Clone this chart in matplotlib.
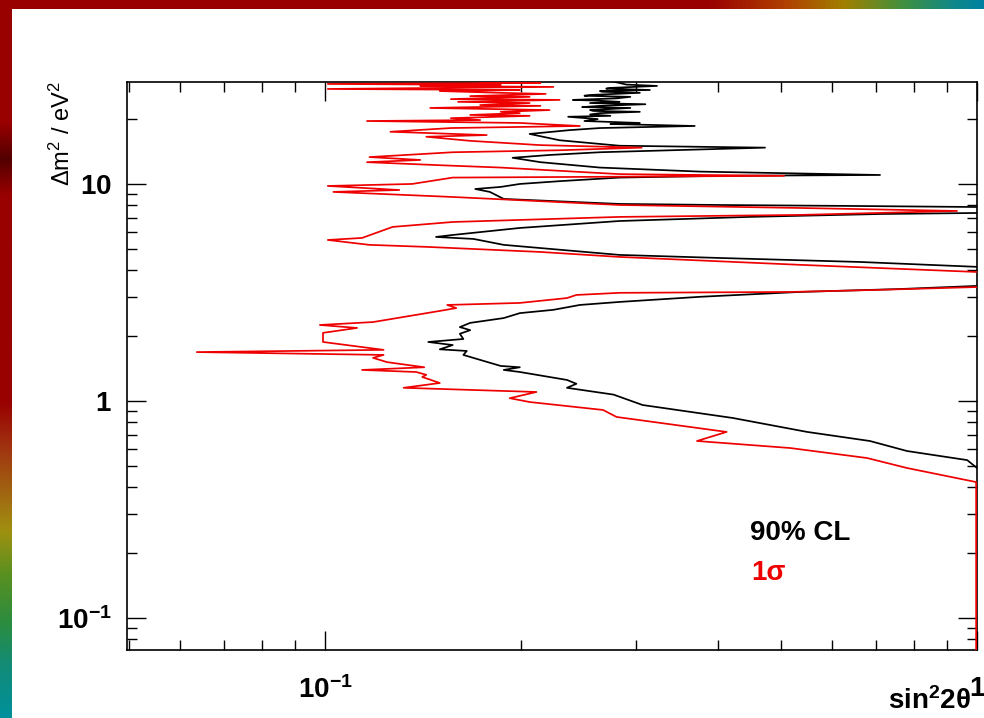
import numpy as np
import matplotlib
matplotlib.use("Agg")
import matplotlib.pyplot as plt
from matplotlib.colors import LinearSegmentedColormap

plt.rcParams['font.family'] = ['Liberation Sans', 'DejaVu Sans']
plt.rcParams['mathtext.fontset'] = 'custom'
plt.rcParams['mathtext.rm'] = 'Liberation Sans'
plt.rcParams['mathtext.bf'] = 'Liberation Sans:bold'
plt.rcParams['mathtext.it'] = 'Liberation Sans:italic'

# 90% CL contour (black), traced bottom -> top
cl90_sin2 = [1.0, 0.966, 0.781, 0.685, 0.549, 0.422, 0.307, 0.277, 0.235, 0.243,
             0.235, 0.199, 0.188, 0.199, 0.186, 0.163, 0.165, 0.150, 0.157, 0.144,
             0.163, 0.161, 0.167, 0.161, 0.167, 0.188, 0.199, 0.224, 0.246, 0.283,
             0.376, 0.535, 0.762, 1.0, 1.07,
             1.07, 1.0, 0.662, 0.403, 0.283, 0.188, 0.169, 0.148, 0.157, 0.199,
             0.283, 0.448, 0.710, 1.0, 1.07,
             1.07, 1.0, 0.638, 0.403, 0.283, 0.188, 0.179, 0.170, 0.186, 0.199,
             0.229, 0.283, 0.403, 0.710, 0.376, 0.264, 0.214, 0.194, 0.221, 0.264,
             0.473, 0.283, 0.229, 0.206, 0.237, 0.264,
             0.369, 0.274, 0.304, 0.250, 0.262, 0.236, 0.274, 0.255, 0.264, 0.304,
             0.258, 0.255, 0.294, 0.248, 0.264, 0.310, 0.255, 0.283, 0.262, 0.240,
             0.280, 0.294, 0.250, 0.255, 0.304, 0.266, 0.264, 0.315, 0.270, 0.274,
             0.323, 0.290, 0.283, 0.264]
cl90_dm2 = [0.491, 0.534, 0.588, 0.654, 0.720, 0.835, 0.958, 1.07, 1.15, 1.20,
            1.25, 1.36, 1.39, 1.43, 1.45, 1.63, 1.70, 1.73, 1.81, 1.87,
            1.93, 2.04, 2.12, 2.19, 2.29, 2.41, 2.54, 2.63, 2.77, 2.86,
            3.02, 3.18, 3.28, 3.39, 3.42,
            4.10, 4.15, 4.37, 4.56, 4.71, 5.24, 5.58, 5.70, 5.82, 6.27,
            6.75, 7.05, 7.27, 7.35, 7.43,
            7.75, 7.83, 7.92, 8.00, 8.09, 8.53, 9.19, 9.48, 9.69, 10.0,
            10.3, 10.7, 10.9, 11.0, 11.4, 11.9, 12.6, 13.2, 13.6, 14.0,
            14.7, 15.0, 15.9, 17.0, 17.7, 18.1,
            18.5, 18.9, 19.1, 19.5, 19.9, 20.4, 20.6, 20.9, 21.2, 21.5,
            21.7, 21.9, 22.4, 22.6, 22.9, 23.3, 23.6, 23.9, 24.2, 24.4,
            24.8, 25.2, 25.5, 25.7, 26.3, 26.6, 26.8, 27.1, 27.5, 27.7,
            28.3, 28.7, 29.2, 30.5]

# 1 sigma contour (red), traced bottom -> top
sig1_sin2 = [0.997, 0.997, 0.781, 0.678, 0.517, 0.372, 0.413, 0.280, 0.267, 0.206,
             0.192, 0.211, 0.132, 0.150, 0.141, 0.143, 0.138, 0.114, 0.142, 0.1245,
             0.1185, 0.123, 0.0636, 0.123, 0.0993, 0.0993, 0.112, 0.0982, 0.1185, 0.150,
             0.159, 0.154, 0.199, 0.235, 0.243, 0.283, 0.520, 0.705, 1.0, 1.07,
             1.07, 1.0, 0.535, 0.283, 0.214, 0.143, 0.117, 0.101, 0.114, 0.127,
             0.157, 0.283, 0.535, 0.932, 0.535, 0.283, 0.157, 0.103, 0.130, 0.101,
             0.136, 0.157, 0.283, 0.506, 0.283, 0.186, 0.150, 0.116, 0.140, 0.117,
             0.157, 0.229, 0.306, 0.214, 0.167, 0.143, 0.177, 0.126, 0.156, 0.246,
             0.199, 0.116, 0.173, 0.156, 0.206, 0.167, 0.199, 0.186, 0.221, 0.145,
             0.214, 0.173, 0.206, 0.160, 0.229, 0.156, 0.206, 0.167, 0.218, 0.186,
             0.150, 0.199, 0.101, 0.224, 0.140, 0.186, 0.101, 0.214, 0.173, 0.186]
sig1_dm2 = [0.06, 0.423, 0.491, 0.546, 0.607, 0.654, 0.720, 0.844, 0.909, 0.989,
            1.03, 1.10, 1.15, 1.21, 1.29, 1.32, 1.36, 1.39, 1.43, 1.51,
            1.58, 1.63, 1.68, 1.72, 1.87, 2.06, 2.17, 2.24, 2.31, 2.60,
            2.68, 2.77, 2.83, 2.98, 3.08, 3.15, 3.18, 3.25, 3.35, 3.39,
            3.89, 3.93, 4.24, 4.61, 4.86, 5.13, 5.24, 5.52, 5.64, 6.34,
            6.68, 7.05, 7.20, 7.51, 7.75, 8.00, 8.71, 9.19, 9.38, 9.79,
            10.0, 10.7, 10.8, 10.9, 11.1, 11.9, 12.2, 12.6, 12.9, 13.3,
            14.0, 14.3, 14.7, 15.1, 15.8, 16.5, 16.8, 17.4, 18.1, 18.5,
            19.1, 19.5, 19.7, 20.1, 20.6, 20.8, 21.2, 21.5, 21.9, 22.4,
            22.9, 23.1, 23.6, 23.9, 24.4, 24.6, 25.2, 25.4, 26.0, 26.3,
            26.8, 27.1, 27.4, 28.0, 28.3, 28.6, 28.9, 29.2, 29.5, 30.5]

fig = plt.figure(figsize=(9.84, 7.18), dpi=100)

# slide background strips
bg = fig.add_axes([0, 0, 1, 1])
bg.axis('off')
left_cmap = LinearSegmentedColormap.from_list(
    'left', [(0.0, '#990000'), (0.17, '#990000'), (0.22, '#520000'), (0.27, '#990000'),
             (0.56, '#990000'), (0.62, '#a03010'), (0.68, '#a06010'), (0.74, '#a09010'),
             (0.80, '#5a9020'), (0.87, '#2a8c40'), (0.93, '#128c78'), (1.0, '#00909c')])
top_cmap = LinearSegmentedColormap.from_list(
    'top', [(0.0, '#990000'), (0.72, '#990000'), (0.80, '#b04000'), (0.86, '#a08000'),
            (0.92, '#409040'), (0.97, '#108888'), (1.0, '#0080a0')])
bg.imshow(np.linspace(0, 1, 256).reshape(-1, 1), cmap=left_cmap,
          extent=[0, 12, 718, 0], aspect='auto')
bg.imshow(np.linspace(0, 1, 256).reshape(1, -1), cmap=top_cmap,
          extent=[0, 984, 9, 0], aspect='auto')
bg.set_xlim(0, 984)
bg.set_ylim(718, 0)

ax = fig.add_axes([127 / 984, 68 / 718, 850 / 984, 568 / 718])
ax.set_xscale('log')
ax.set_yscale('log')

ax.plot(cl90_sin2, cl90_dm2, color='black', lw=1.25)
ax.plot(sig1_sin2, sig1_dm2, color='#ee0000', lw=1.25, zorder=3)

ax.set_xlim(0.0497, 1.0)
ax.set_ylim(0.0712, 29.5)

ax.set_xticks([0.1, 1.0], labels=[r'$\mathbf{10^{-1}}$', r'$\mathbf{1}$'])
ax.set_yticks([0.1, 1.0, 10.0], labels=[r'$\mathbf{10^{-1}}$', r'$\mathbf{1}$', r'$\mathbf{10}$'])
ax.tick_params(which='both', direction='in', top=True, right=True, width=1.0,
               labelsize=20)
ax.tick_params(which='major', length=14)
ax.tick_params(which='minor', length=7)
ax.tick_params(axis='x', pad=19)
ax.tick_params(axis='y', pad=11)
ax.xaxis.set_minor_formatter(plt.NullFormatter())
ax.yaxis.set_minor_formatter(plt.NullFormatter())
for s in ax.spines.values():
    s.set_linewidth(1.2)

ax.text(0.733, 0.206, '90% CL', transform=ax.transAxes, fontsize=20,
        fontweight='bold', color='black', va='center', ha='left')
ax.text(0.735, 0.136, '1σ', transform=ax.transAxes, fontsize=20,
        fontweight='bold', color='#ee0000', va='center', ha='left')

fig.text(971 / 984, 1 - 701 / 718, r'sin$^{\mathbf{2}}$2θ', fontsize=20,
         fontweight='bold', ha='right', va='center')
fig.text(62 / 984, 1 - 134 / 718, r'Δm$^{2}$ / eV$^{2}$', fontsize=17,
         rotation=90, ha='center', va='center')

fig.savefig('out.png', dpi=100)
